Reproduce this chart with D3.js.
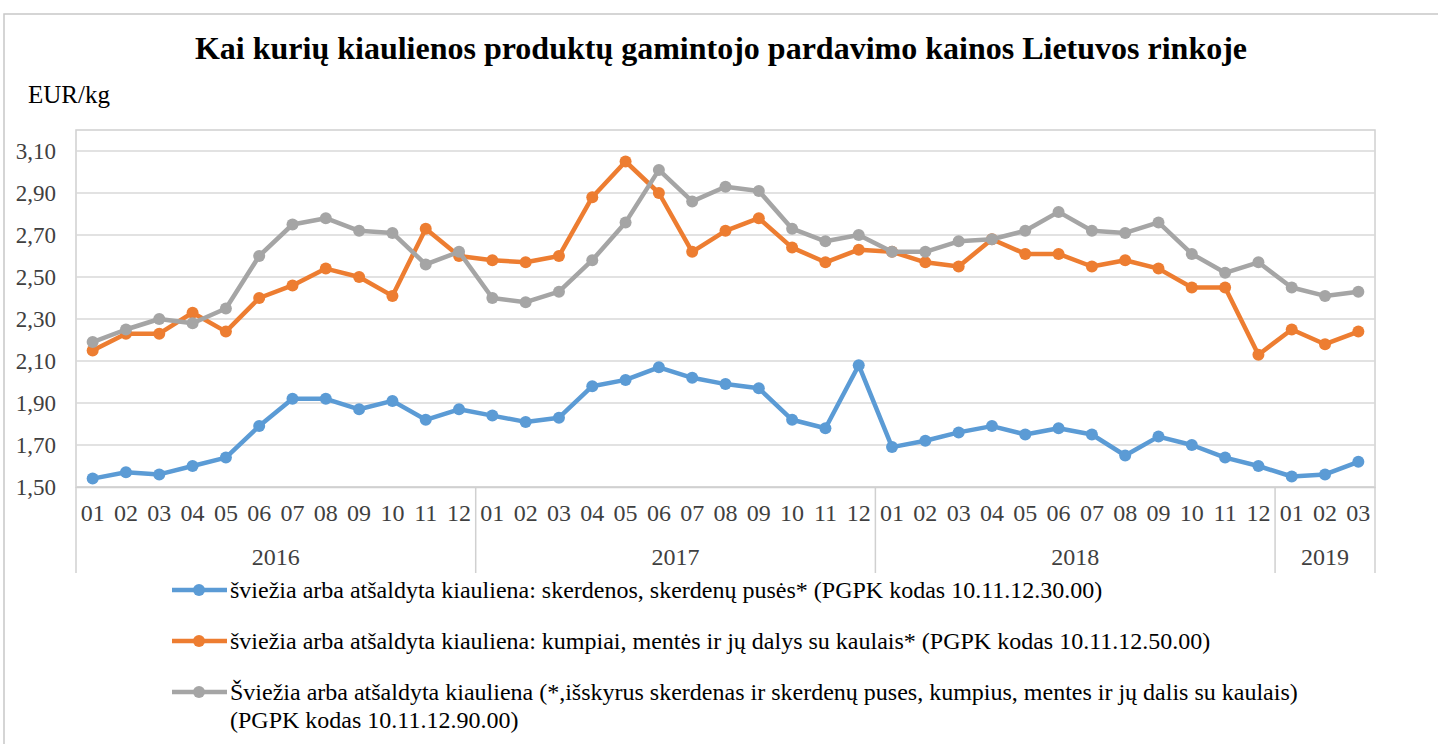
<!DOCTYPE html>
<html>
<head>
<meta charset="utf-8">
<script src="https://cdn.jsdelivr.net/npm/d3@7"></script>
<style>
  body { margin:0; background:#fff; }
</style>
</head>
<body>
<div id="plot"></div>
<script>
//Data;
const months=["01","02","03","04","05","06","07","08","09","10","11","12",
              "01","02","03","04","05","06","07","08","09","10","11","12",
              "01","02","03","04","05","06","07","08","09","10","11","12",
              "01","02","03"];
const years=["2016","2017","2018","2019"];
const yearCounts=[12,12,12,3];

const skerdenos=[1.54,1.57,1.56,1.60,1.64,1.79,1.92,1.92,1.87,1.91,1.82,1.87,
                 1.84,1.81,1.83,1.98,2.01,2.07,2.02,1.99,1.97,1.82,1.78,2.08,
                 1.69,1.72,1.76,1.79,1.75,1.78,1.75,1.65,1.74,1.70,1.64,1.60,
                 1.55,1.56,1.62];
const kumpiai=[2.15,2.23,2.23,2.33,2.24,2.40,2.46,2.54,2.50,2.41,2.73,2.60,
               2.58,2.57,2.60,2.88,3.05,2.90,2.62,2.72,2.78,2.64,2.57,2.63,
               2.62,2.57,2.55,2.68,2.61,2.61,2.55,2.58,2.54,2.45,2.45,2.13,
               2.25,2.18,2.24];
const kita=[2.19,2.25,2.30,2.28,2.35,2.60,2.75,2.78,2.72,2.71,2.56,2.62,
            2.40,2.38,2.43,2.58,2.76,3.01,2.86,2.93,2.91,2.73,2.67,2.70,
            2.62,2.62,2.67,2.68,2.72,2.81,2.72,2.71,2.76,2.61,2.52,2.57,
            2.45,2.41,2.43];
const yTicks=[1.50,1.70,1.90,2.10,2.30,2.50,2.70,2.90,3.10];

const series=[
  {name:"šviežia arba atšaldyta kiauliena: skerdenos, skerdenų pusės* (PGPK kodas 10.11.12.30.00)", values:skerdenos, color:"#5B9BD5"},
  {name:"šviežia arba atšaldyta kiauliena: kumpiai, mentės ir jų dalys su kaulais* (PGPK kodas 10.11.12.50.00)", values:kumpiai, color:"#ED7D31"},
  {name:"Šviežia arba atšaldyta kiauliena (*,išskyrus skerdenas ir skerdenų puses, kumpius, mentes ir jų dalis su kaulais)", name2:"(PGPK kodas 10.11.12.90.00)", values:kita, color:"#A5A5A5"}
];

//Sizes;
const w=1438, h=744;
const pLeft=76, pRight=1375, pTop=130, pBottom=487;
const FONT="'Liberation Serif', 'Times New Roman', serif";

const svg=d3.select("#plot").append("svg").attr("width",w).attr("height",h);

//Outer frame;
svg.append("rect").attr("x",4).attr("y",14).attr("width",w).attr("height",h)
   .attr("fill","none").attr("stroke","#c8c8c8").attr("stroke-width",1.5);

//Scales;
const idx=months.map((d,i)=>i);
const x=d3.scaleBand().domain(idx).range([pLeft,pRight]).padding(0);
const cx=i=>x(i)+x.bandwidth()/2;
const y=d3.scaleLinear().domain([1.5,3.2]).range([pBottom,pTop]);

//Plot area border;
svg.append("rect").attr("x",pLeft).attr("y",pTop).attr("width",pRight-pLeft).attr("height",pBottom-pTop)
   .attr("fill","none").attr("stroke","#d0d0d0").attr("stroke-width",1.5);

//Gridlines;
svg.append("g").selectAll("line").data(yTicks).enter().append("line")
   .attr("x1",pLeft).attr("x2",pRight)
   .attr("y1",d=>y(d)).attr("y2",d=>y(d))
   .attr("stroke","#d9d9d9").attr("stroke-width",1.5);

//Y axis labels;
const yAxis=d3.axisLeft(y).tickValues(yTicks).tickSize(0).tickPadding(20)
   .tickFormat(d=>d3.format(".2f")(d).replace(".",","));
const gy=svg.append("g").attr("transform","translate("+pLeft+",0)").call(yAxis);
gy.select(".domain").remove();
gy.selectAll("text").style("font-family",FONT).attr("font-size",23).attr("fill","#404040");

//X axis month labels;
const xAxis=d3.axisBottom(x).tickSize(0).tickPadding(17).tickFormat(i=>months[i]);
const gx=svg.append("g").attr("transform","translate(0,"+pBottom+")").call(xAxis);
gx.select(".domain").attr("stroke","#d0d0d0").attr("stroke-width",1.5);
gx.selectAll("text").style("font-family",FONT).attr("font-size",24).attr("fill","#404040");

//Year groups;
let start=0;
const groups=years.map((yr,k)=>{
  const g={year:yr, from:start, to:start+yearCounts[k]-1};
  start+=yearCounts[k];
  return g;
});
const sepX=[pLeft].concat(groups.map(g=>x(g.to)+x.bandwidth()));
svg.append("g").selectAll("line").data(sepX).enter().append("line")
   .attr("x1",d=>d).attr("x2",d=>d).attr("y1",pBottom).attr("y2",573)
   .attr("stroke","#d0d0d0").attr("stroke-width",1.5);
svg.append("g").selectAll("text").data(groups).enter().append("text")
   .attr("x",g=>(x(g.from)+x(g.to)+x.bandwidth())/2)
   .attr("y",565)
   .attr("text-anchor","middle")
   .style("font-family",FONT).attr("font-size",24).attr("fill","#404040")
   .text(g=>g.year);

//Lines;
const line=d3.line().x((d,i)=>cx(i)).y(d=>y(d));
series.forEach(s=>{
  svg.append("path").datum(s.values)
     .attr("d",line).attr("fill","none")
     .attr("stroke",s.color).attr("stroke-width",4.5).attr("stroke-linejoin","round");
  svg.append("g").selectAll("circle").data(s.values).enter().append("circle")
     .attr("cx",(d,i)=>cx(i)).attr("cy",d=>y(d)).attr("r",6)
     .attr("fill",s.color);
});

//Title;
svg.append("text").attr("x",721).attr("y",59).attr("text-anchor","middle")
   .style("font-family",FONT).attr("font-size",32).attr("font-weight","bold").attr("fill","#000")
   .text("Kai kurių kiaulienos produktų gamintojo pardavimo kainos Lietuvos rinkoje");

//Unit label;
svg.append("text").attr("x",28).attr("y",103)
   .style("font-family",FONT).attr("font-size",25).attr("fill","#000").text("EUR/kg");

//Legend;
const legY=[590,641,692];
series.forEach((s,k)=>{
  const g=svg.append("g").attr("transform","translate(0,"+legY[k]+")");
  g.append("line").attr("x1",172).attr("x2",227).attr("y1",0).attr("y2",0)
   .attr("stroke",s.color).attr("stroke-width",4.5);
  g.append("circle").attr("cx",199).attr("cy",0).attr("r",6).attr("fill",s.color);
  g.append("text").attr("x",230).attr("y",8).style("font-family",FONT)
   .attr("font-size",24).attr("fill","#000").text(s.name);
  if(s.name2){
    g.append("text").attr("x",230).attr("y",36).style("font-family",FONT)
     .attr("font-size",24).attr("fill","#000").text(s.name2);
  }
});
</script>
</body>
</html>
